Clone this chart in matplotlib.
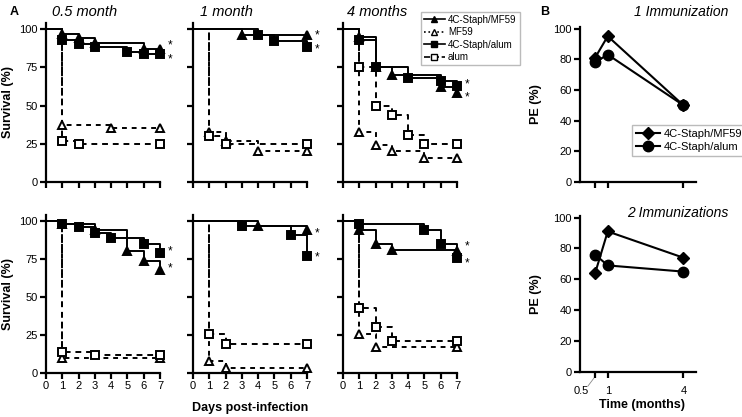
import matplotlib
matplotlib.use('Agg')
import matplotlib.pyplot as plt
from matplotlib.lines import Line2D

plt.rcParams['font.family'] = ['Liberation Sans', 'DejaVu Sans']

# ---- Panel A data: Kaplan-Meier survival (%), days post-infection ----
# rows: 1 immunization (top) / 2 immunizations (bottom); columns: 0.5, 1, 4 months
# top row, 0.5 month
t1_05_mf59adj = [1, 2, 3, 6, 7]
s1_05_mf59adj = [97, 94, 91, 87, 87]
t1_05_alumadj = [1, 2, 3, 5, 6, 7]
s1_05_alumadj = [93, 90, 88, 85, 84, 84]
t1_05_mf59 = [1, 4, 7]
s1_05_mf59 = [37, 35, 35]
t1_05_alum = [1, 2, 7]
s1_05_alum = [27, 25, 25]
stars1_05 = [89, 80]

# top row, 1 month
t1_1_mf59adj = [3, 7]
s1_1_mf59adj = [96, 96]
t1_1_alumadj = [4, 5, 7]
s1_1_alumadj = [96, 92, 88]
t1_1_mf59 = [1, 2, 4, 7]
s1_1_mf59 = [33, 27, 20, 20]
t1_1_alum = [1, 2, 7]
s1_1_alum = [30, 25, 25]
stars1_1 = [96, 87]

# top row, 4 months
t1_4_mf59adj = [1, 2, 3, 6, 7]
s1_4_mf59adj = [95, 75, 70, 62, 58]
t1_4_alumadj = [1, 2, 4, 6, 7]
s1_4_alumadj = [93, 75, 68, 66, 63]
t1_4_mf59 = [1, 2, 3, 5, 7]
s1_4_mf59 = [33, 24, 20, 16, 16]
t1_4_alum = [1, 2, 3, 4, 5, 7]
s1_4_alum = [75, 50, 44, 31, 25, 25]
stars1_4 = [64, 55]

# bottom row, 0.5 month
t2_05_mf59adj = [1, 3, 5, 6, 7]
s2_05_mf59adj = [98, 94, 80, 74, 68]
t2_05_alumadj = [1, 2, 3, 4, 6, 7]
s2_05_alumadj = [98, 96, 92, 89, 85, 79]
t2_05_mf59 = [1, 7]
s2_05_mf59 = [10, 10]
t2_05_alum = [1, 3, 7]
s2_05_alum = [14, 12, 12]
stars2_05 = [80, 69]

# bottom row, 1 month
t2_1_mf59adj = [4, 7]
s2_1_mf59adj = [97, 94]
t2_1_alumadj = [3, 6, 7]
s2_1_alumadj = [97, 91, 77]
t2_1_mf59 = [1, 2, 7]
s2_1_mf59 = [8, 3, 3]
t2_1_alum = [1, 2, 7]
s2_1_alum = [26, 19, 19]
stars2_1 = [92, 76]

# bottom row, 4 months
t2_4_mf59adj = [1, 2, 3, 7]
s2_4_mf59adj = [94, 85, 81, 80]
t2_4_alumadj = [1, 5, 6, 7]
s2_4_alumadj = [98, 94, 85, 76]
t2_4_mf59 = [1, 2, 7]
s2_4_mf59 = [26, 17, 17]
t2_4_alum = [1, 2, 3, 7]
s2_4_alum = [43, 30, 21, 21]
stars2_4 = [83, 72]

# ---- Panel B data: protective efficacy (%) ----
months = [0.5, 1, 4]
pe1_mf59 = [81, 95, 50]
pe1_alum = [78, 83, 50]
pe2_mf59 = [64, 91, 74]
pe2_alum = [76, 69, 65]

days = [0, 1, 2, 3, 4, 5, 6, 7]
yticks_a = [0, 25, 50, 75, 100]
yticks_b = [0, 20, 40, 60, 80, 100]

styles = {
    'adj_mf59': dict(color='black', ls='-', marker='^', mfc='black'),
    'mf59': dict(color='black', ls=(0, (2.5, 2.5)), marker='^', mfc='white'),
    'adj_alum': dict(color='black', ls='-', marker='s', mfc='black'),
    'alum': dict(color='black', ls=(0, (3, 2.5)), marker='s', mfc='white'),
}


def km(ax, t, s, key):
    """Draw one step survival curve starting at 100% on day 0"""
    st = styles[key]
    x = [0] + t
    y = [100] + s
    ax.step(x, y, where='post', color=st['color'], ls=st['ls'], lw=1.4,
            clip_on=False, zorder=2)
    ax.plot(t, s, ls='none', marker=st['marker'], mfc=st['mfc'],
            mec='black', mew=1.4, ms=6.3, clip_on=False, zorder=3)


def style_axes(ax, xt, yt, xlab, ylab):
    for side in ['top', 'right']:
        ax.spines[side].set_visible(False)
    for side in ['left', 'bottom']:
        ax.spines[side].set_linewidth(1.6)
    ax.tick_params(width=1.6, length=4, labelsize=8, pad=2)
    ax.set_xticks(xt)
    ax.set_yticks(yt)
    if not xlab:
        ax.set_xticklabels([])
    if not ylab:
        ax.set_yticklabels([])


fig = plt.figure(figsize=(7.42, 4.17), dpi=100)

col_left = [46, 193, 343]
col_w = 114
rows = [(182, 23), (373, 215)]   # (zero pixel, top pixel)

panels = [
    [(t1_05_mf59adj, s1_05_mf59adj, t1_05_alumadj, s1_05_alumadj,
      t1_05_mf59, s1_05_mf59, t1_05_alum, s1_05_alum, stars1_05),
     (t1_1_mf59adj, s1_1_mf59adj, t1_1_alumadj, s1_1_alumadj,
      t1_1_mf59, s1_1_mf59, t1_1_alum, s1_1_alum, stars1_1),
     (t1_4_mf59adj, s1_4_mf59adj, t1_4_alumadj, s1_4_alumadj,
      t1_4_mf59, s1_4_mf59, t1_4_alum, s1_4_alum, stars1_4)],
    [(t2_05_mf59adj, s2_05_mf59adj, t2_05_alumadj, s2_05_alumadj,
      t2_05_mf59, s2_05_mf59, t2_05_alum, s2_05_alum, stars2_05),
     (t2_1_mf59adj, s2_1_mf59adj, t2_1_alumadj, s2_1_alumadj,
      t2_1_mf59, s2_1_mf59, t2_1_alum, s2_1_alum, stars2_1),
     (t2_4_mf59adj, s2_4_mf59adj, t2_4_alumadj, s2_4_alumadj,
      t2_4_mf59, s2_4_mf59, t2_4_alum, s2_4_alum, stars2_4)],
]

W, H = 742, 417
for r, (zero_px, top_px) in enumerate(rows):
    for c in range(3):
        ax = fig.add_axes([col_left[c] / W, 1 - zero_px / H,
                           col_w / W, (zero_px - top_px) / H])
        d = panels[r][c]
        km(ax, d[4], d[5], 'mf59')
        km(ax, d[6], d[7], 'alum')
        km(ax, d[0], d[1], 'adj_mf59')
        km(ax, d[2], d[3], 'adj_alum')
        for sy in d[8]:
            ax.text(7.45, sy, '*', fontsize=8.5, va='center', ha='left')
        ax.set_xlim(0, 7)
        ax.set_ylim(0, 104)
        style_axes(ax, days, yticks_a, r == 1, c == 0)
        if c == 0:
            ax.set_ylabel('Survival (%)', fontsize=9, fontweight='bold',
                          labelpad=4)

# panel titles
fig.text(52 / W, 1 - 12 / H, '0.5 month', style='italic', fontsize=10.5,
         va='center')
fig.text(200 / W, 1 - 12 / H, '1 month', style='italic', fontsize=10.5,
         va='center')
fig.text(347 / W, 1 - 12 / H, '4 months', style='italic', fontsize=10.5,
         va='center')
fig.text(250 / W, 1 - 408 / H, 'Days post-infection', fontsize=9,
         fontweight='bold', ha='center', va='center')
fig.text(10 / W, 1 - 12 / H, 'A', fontsize=9, fontweight='bold',
         va='center')
fig.text(540 / W, 1 - 12 / H, 'B', fontsize=9, fontweight='bold',
         va='center')

# legend for panel A
handles_a = [
    Line2D([], [], color='black', ls='-', lw=1.2, marker='^', mfc='black',
           mec='black', ms=5),
    Line2D([], [], color='black', ls=':', lw=1.2, marker='^', mfc='white',
           mec='black', ms=5),
    Line2D([], [], color='black', ls='-', lw=1.2, marker='s', mfc='black',
           mec='black', ms=5),
    Line2D([], [], color='black', ls='--', lw=1.2, marker='s', mfc='white',
           mec='black', ms=5),
]
fig.legend(handles_a, ['4C-Staph/MF59', 'MF59', '4C-Staph/alum', 'alum'],
           loc='upper left', bbox_to_anchor=(416 / W, 1 - 7 / H),
           fontsize=7, handlelength=2.2, handletextpad=0.3,
           labelspacing=0.25, borderpad=0.3, fancybox=False,
           edgecolor='#bbbbbb', framealpha=1)

# ---- Panel B ----
b_rows = [(182, 27, pe1_mf59, pe1_alum, '1 Immunization'),
          (372, 216, pe2_mf59, pe2_alum, '2 Immunizations')]
for i, (zero_px, top_px, mf, al, title) in enumerate(b_rows):
    ax = fig.add_axes([580 / W, 1 - zero_px / H, 116 / W,
                       (zero_px - top_px) / H])
    ax.plot(months, mf, color='black', lw=1.5, marker='D', ms=6.5,
            label='4C-Staph/MF59', clip_on=False)
    ax.plot(months, al, color='black', lw=1.5, marker='o', ms=7.5,
            label='4C-Staph/alum', clip_on=False)
    ax.set_xlim(-0.1, 4.5)
    ax.set_ylim(0, 101)
    style_axes(ax, months, yticks_b, False, True)
    ax.set_ylabel('PE (%)', fontsize=9, fontweight='bold', labelpad=8)
    fig.text(1 - 14 / W, 1 - (12 if i == 0 else 213) / H, title,
             style='italic', fontsize=10, ha='right', va='center')
    if i == 0:
        ax.legend(loc='upper left', bbox_to_anchor=(632 / W, 1 - 125 / H),
                  bbox_transform=fig.transFigure, fontsize=8,
                  handlelength=2.2, handletextpad=0.3, labelspacing=0.3,
                  borderpad=0.35, fancybox=False, edgecolor='#bbbbbb',
                  framealpha=1, borderaxespad=0)
    else:
        # tick labels, the 0.5 label sits off to the left with a leader line
        ax.text(1, -9, '1', fontsize=8, ha='center', va='top')
        ax.text(4, -9, '4', fontsize=8, ha='center', va='top')
        ax.text(-0.07, -9, '0.5', fontsize=8, ha='center', va='top')
        ax.plot([0.22, 0.45], [-9, -4], color='#888888', lw=0.6,
                clip_on=False)
        fig.text(642 / W, 1 - 405 / H, 'Time (months)', fontsize=9,
                 fontweight='bold', ha='center', va='center')

fig.savefig('out.png', dpi=100)
